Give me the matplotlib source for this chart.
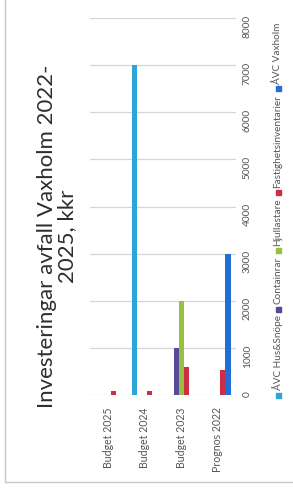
import numpy as np
import matplotlib
matplotlib.use("Agg")
import matplotlib.pyplot as plt
from matplotlib.patches import Rectangle
from matplotlib.lines import Line2D

categories = ["Budget 2025", "Budget 2024", "Budget 2023", "Prognos 2022"]
series_names = ["ÅVC Hus&Snöpe", "Containrar", "Hjullastare",
                "Fastighetsinventarier", "ÅVC Vaxholm"]
avc_hus = [0, 7000, 0, 0]
containrar = [0, 0, 1000, 0]
hjullastare = [0, 0, 2000, 0]
fastighet = [90, 90, 600, 520]
avc_vaxholm = [0, 0, 0, 3000]
series_values = [avc_hus, containrar, hjullastare, fastighet, avc_vaxholm]
colors = ["#2ba6d6", "#58489a", "#96c03e", "#cc2f45", "#1f6fd6"]
yticks = [0, 1000, 2000, 3000, 4000, 5000, 6000, 7000, 8000]
title = "Investeringar avfall Vaxholm 2022-\n2025, kkr"

plt.rcParams['font.family'] = ['Lato', 'DejaVu Sans']
W, H = 293, 497
fig = plt.figure(figsize=(W / 100, H / 100), dpi=100)
fig.patch.set_facecolor("white")

ax = fig.add_axes([90 / W, 1 - 395 / H, (236 - 90) / W, (395 - 18) / H])
x = np.arange(len(categories))
width = 0.14
for i, (name, vals, col) in enumerate(zip(series_names, series_values, colors)):
    ax.bar(x + (i - 2) * width, vals, width, color=col, label=name, zorder=3)

ax.set_xlim(-0.5, 3.5)
ax.set_ylim(0, 8000)
ax.set_yticks(yticks)
ax.set_yticklabels([str(t) for t in yticks])
ax.yaxis.tick_right()
ax.tick_params(axis='y', length=0, labelrotation=90, pad=5, labelsize=7.3,
               labelcolor='#555555')
ax.set_xticks(x)
ax.set_xticklabels(categories, rotation=90)
ax.tick_params(axis='x', length=0, pad=9, labelsize=7.6, labelcolor='#555555')
for s in ax.spines.values():
    s.set_visible(False)
ax.yaxis.grid(True, color='#d6d6d6', lw=0.9, zorder=0)
ax.set_axisbelow(True)
ax.set_facecolor('white')

fig.text(57 / W, 1 - 236 / H, title, rotation=90, ha='center', va='center',
         multialignment='center', fontsize=16, color='#2e2e2e', linespacing=1.05)

# frame
fig.add_artist(Line2D([5 / W, 5 / W], [1 - 482 / H, 1.0], transform=fig.transFigure,
                      color='#c8c8c8', lw=1))
fig.add_artist(Line2D([5 / W, 1.0], [1 - 482 / H, 1 - 482 / H], transform=fig.transFigure,
                      color='#c8c8c8', lw=1))

# legend (rotated, manual layout)
fig.canvas.draw()
r = fig.canvas.get_renderer()
ypix = 395
xc = 278
sq = 5
for name, col in zip(series_names, colors):
    fig.add_artist(Rectangle(((xc - sq / 2) / W, 1 - (ypix + sq / 2) / H), sq / W, sq / H,
                             transform=fig.transFigure, color=col))
    t = fig.text(xc / W, 1 - (ypix - sq / 2 - 2) / H, name, rotation=90, ha='center',
                 va='bottom', fontsize=7.2, color='#555555')
    bb = t.get_window_extent(r)
    ypix = ypix - sq / 2 - 2 - bb.height - 4 - sq / 2

fig.savefig("out.png", dpi=100, facecolor='white')
